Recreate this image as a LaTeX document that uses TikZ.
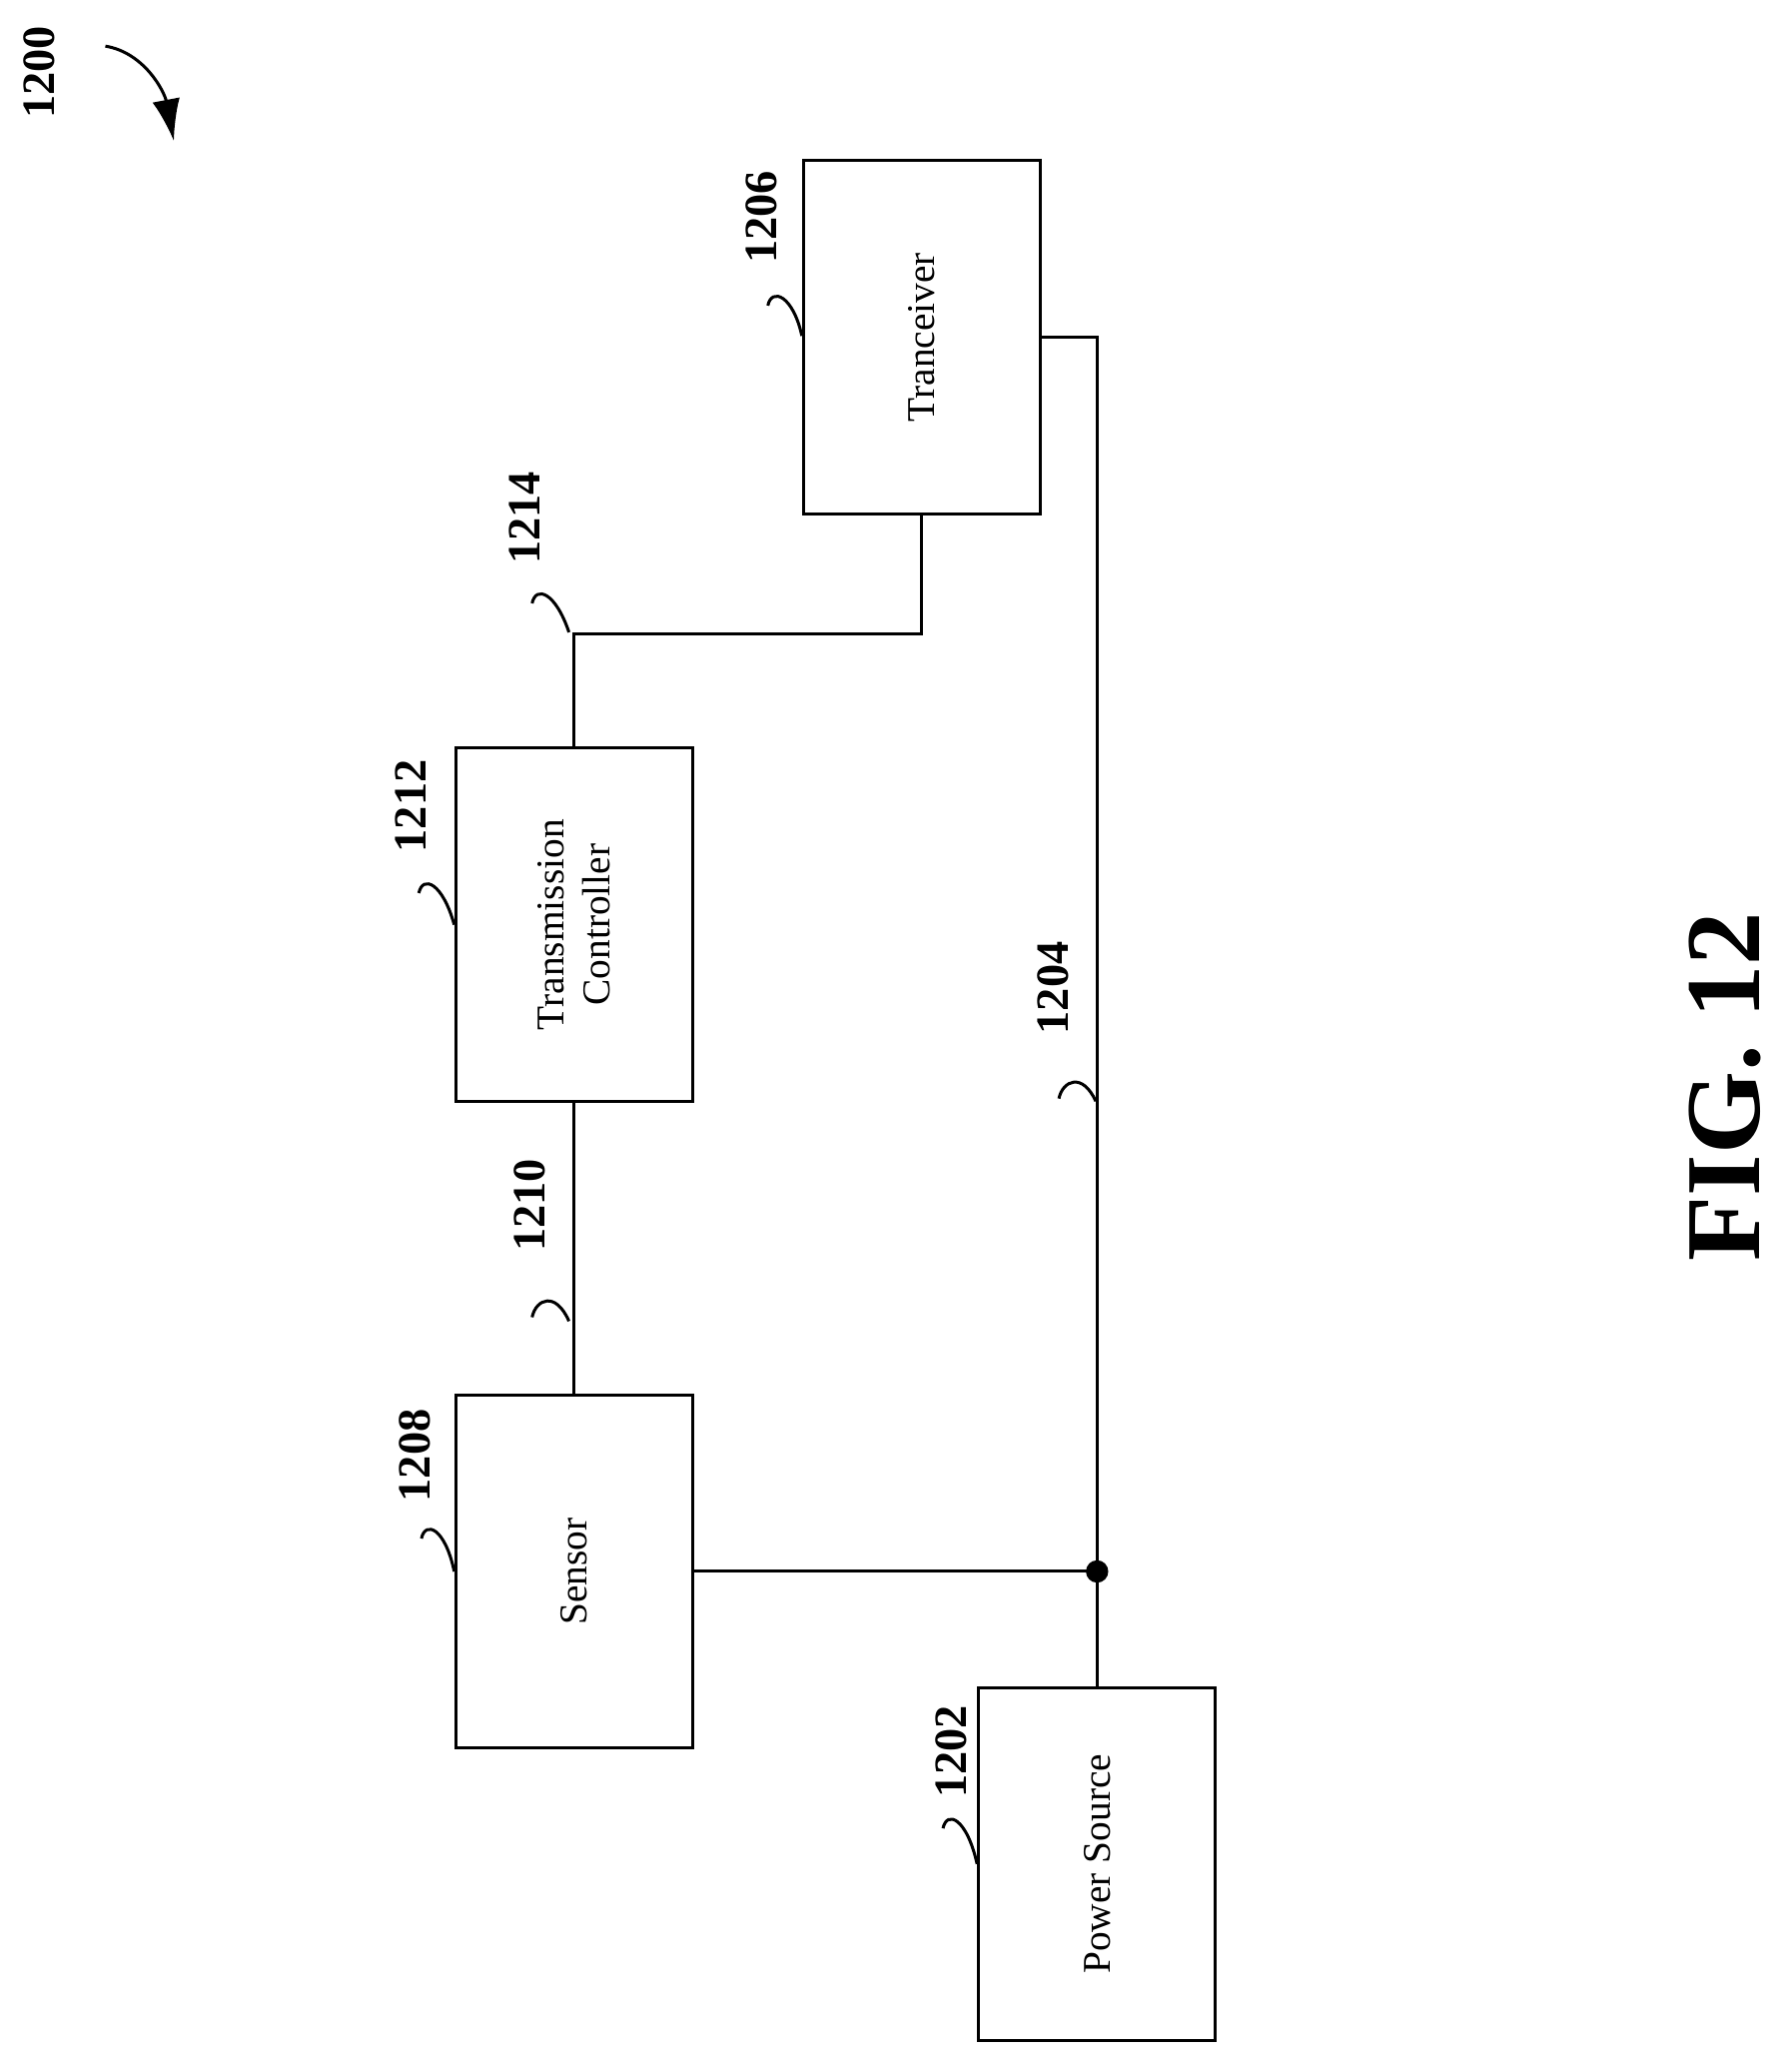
\documentclass[tikz,border=0pt]{standalone}
\usepackage{fontspec}
\setmainfont{Liberation Serif}
\usetikzlibrary{positioning,arrows.meta}
\begin{document}
\begin{tikzpicture} [
        x = 0.02cm, y = -0.02cm,
        block/.style = {draw, line width=1.3pt, rotate=90, minimum width=5.36cm, minimum height=3.6cm, align=center, font=\fontsize{17}{20}\selectfont},
        num/.style = {rotate=90, font=\bfseries\fontsize{20}{22}\selectfont},
        wire/.style = {line width=1.3pt},
        lead/.style = {line width=1.3pt}
    ]
    \useasboundingbox (0,0) rectangle (1357,1573);

    \node[block] (tx) at (700,256)  {Tranceiver};
    \node[block] (tc) at (436,702)  {Transmission\\Controller};
    \node[block] (sn) at (436,1193) {Sensor};
    \node[block] (ps) at (833,1415) {Power Source};

    \draw[wire] (tx.west) -- ++(0,90) -| (tc.east);
    \draw[wire] (tc.west) -- (sn.east);
    \draw[wire] (tx.south) -| (ps.east);
    \draw[wire] (sn.south) -- (sn.south -| ps.east);
    \fill (sn.south -| ps.east) circle (0.17cm);

    % reference numerals
    \node[num] (n1200) at (30,55)   {1200};
    \node[num] (n1206) at (578,165) {1206};
    \node[num] (n1214) at (398,393) {1214};
    \node[num] (n1212) at (312,612) {1212};
    \node[num] (n1210) at (402,915) {1210};
    \node[num] (n1208) at (315,1105) {1208};
    \node[num] (n1204) at (800,750) {1204};
    \node[num] (n1202) at (722,1330) {1202};
    \node[rotate=90, font=\bfseries\fontsize{46}{50}\selectfont] (fig) at (1310,825) {FIG. 12};

    % leaders
    \draw[lead] (583,232) .. controls (586,218) and (602,224) .. (tx.north |- 0,255);
    \draw[lead] (404,458) .. controls (407,444) and (422,450) .. (432,480);
    \draw[lead] (318,678) .. controls (321,664) and (336,670) .. (tc.north);
    \draw[lead] (404,1000) .. controls (407,986) and (422,980) .. (432,1003);
    \draw[lead] (320,1168) .. controls (323,1154) and (338,1160) .. (sn.north);
    \draw[lead] (804,834) .. controls (807,820) and (822,814) .. (832,836);
    \draw[lead] (716,1388) .. controls (719,1374) and (734,1380) .. (ps.north);
    \draw[lead, -{Latex[length=18pt,width=12pt]}] (80,35) .. controls (110,40) and (125,70) .. (132,107);
\end{tikzpicture}
\end{document}
